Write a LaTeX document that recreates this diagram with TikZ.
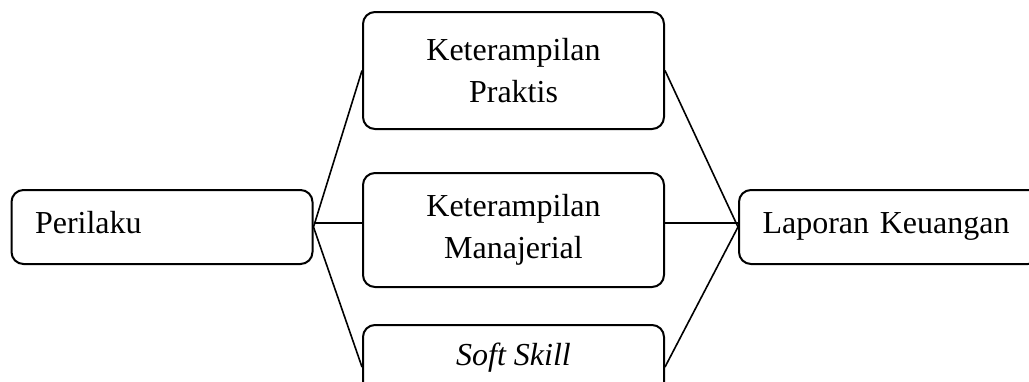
\documentclass[tikz,border=0pt]{standalone}
\usepackage{fontspec}
\setmainfont{Liberation Serif}

\begin{document}
\begin{tikzpicture}[
    x=0.5pt, y=-0.5pt,
    box/.style={rectangle, draw=black, line width=1pt, rounded corners=6pt, font=\fontsize{16}{21}\selectfont, minimum width=150.5pt, inner sep=0pt, align=center},
    sidebox/.style={box, text width=127pt, inner xsep=11.75pt, align=left, minimum height=37pt, text height=11pt, text depth=5pt},
    link/.style={line width=0.8pt, draw=black}
]
    \clip (0,0) rectangle (1029,381);

    % Nodes
    \node[sidebox] (perilaku) at (162,227) {Perilaku};
    \node[box, minimum height=58.5pt] (praktis) at (513.5,70.5) {Keterampilan\\Praktis};
    \node[box, minimum height=57pt] (manajerial) at (513.5,230) {Keterampilan\\Manajerial};
    \node[box, minimum height=42pt, text height=11pt, text depth=13pt] (softskill) at (513.5,367) {\textit{Soft Skill}};
    \node[sidebox] (laporan) at (889.5,227) {Laporan Keuangan};

    % Connections
    \draw[link] (perilaku.east) -- (praktis.west);
    \draw[link] ([yshift=2pt]perilaku.east) -- ([yshift=2pt]perilaku.east -| manajerial.west);
    \draw[link] (perilaku.east) -- (softskill.west);

    \draw[link] (praktis.east) -- (laporan.west);
    \draw[link] ([yshift=2pt]laporan.west -| manajerial.east) -- ([yshift=2pt]laporan.west);
    \draw[link] (softskill.east) -- (laporan.west);
\end{tikzpicture}
\end{document}
